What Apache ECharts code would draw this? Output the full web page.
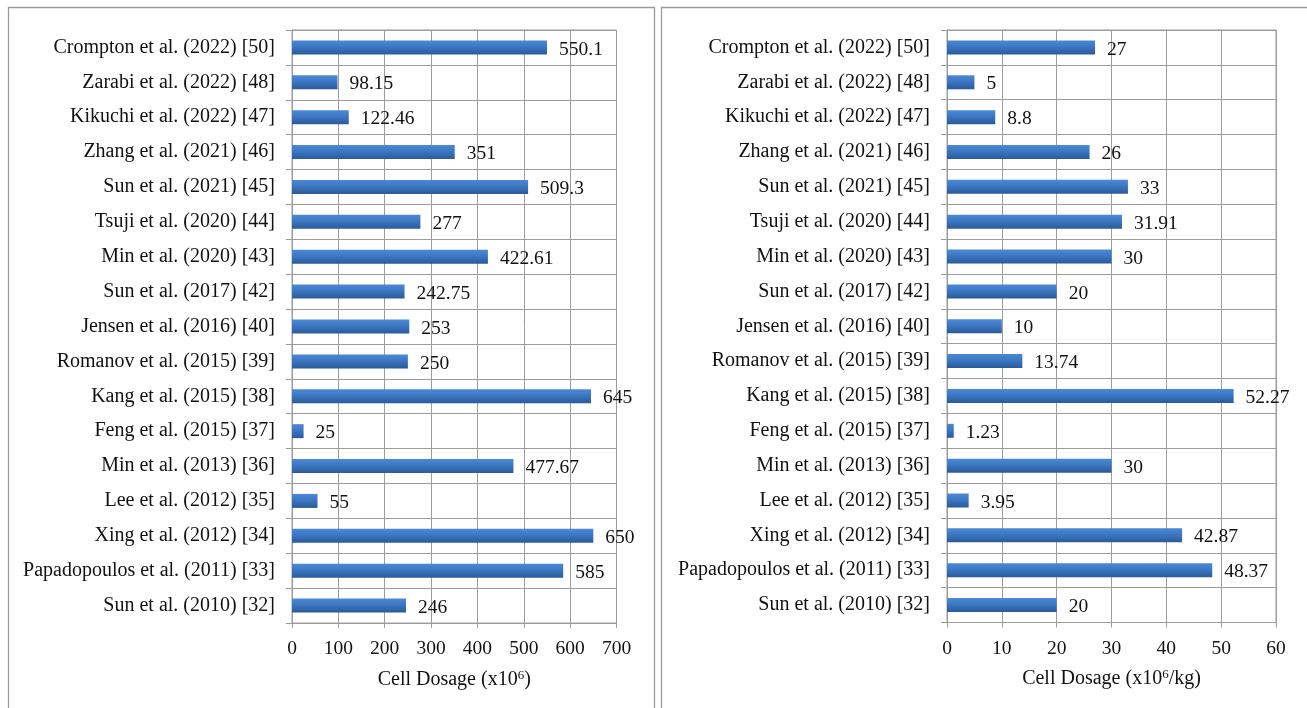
<!DOCTYPE html>
<html>
<head>
<meta charset="utf-8">
<script src="https://cdn.jsdelivr.net/npm/echarts@6/dist/echarts.min.js"></script>
<style>
  html, body { margin: 0; padding: 0; background: #fff; }
  #chart { width: 1307px; height: 708px; }
</style>
</head>
<body>
<div id="chart"></div>
<script>
// Studies, listed bottom to top as the category axis runs
const studies = [
  'Sun et al. (2010) [32]',
  'Papadopoulos et al. (2011) [33]',
  'Xing et al. (2012) [34]',
  'Lee et al. (2012) [35]',
  'Min et al. (2013) [36]',
  'Feng et al. (2015) [37]',
  'Kang et al. (2015) [38]',
  'Romanov et al. (2015) [39]',
  'Jensen et al. (2016) [40]',
  'Sun et al. (2017) [42]',
  'Min et al. (2020) [43]',
  'Tsuji et al. (2020) [44]',
  'Sun et al. (2021) [45]',
  'Zhang et al. (2021) [46]',
  'Kikuchi et al. (2022) [47]',
  'Zarabi et al. (2022) [48]',
  'Crompton et al. (2022) [50]'
];

// Total cell dose (x10^6)
const totalDose = [246, 585, 650, 55, 477.67, 25, 645, 250, 253, 242.75, 422.61, 277, 509.3, 351, 122.46, 98.15, 550.1];

// Cell dose per body weight (x10^6/kg)
const doseperKg = [20, 48.37, 42.87, 3.95, 30, 1.23, 52.27, 13.74, 10, 20, 30, 31.91, 33, 26, 8.8, 5, 27];

// Value axis ranges
const totalAxis = { min: 0, max: 700, interval: 100 };
const perKgAxis = { min: 0, max: 60, interval: 10 };

const FONT = 'Liberation Serif';
const GRID_COLOR = '#9c9c9c';
const TEXT_COLOR = '#111';

const barFill = new echarts.graphic.LinearGradient(0, 0, 0, 1, [
  { offset: 0, color: '#4b89d6' },
  { offset: 0.45, color: '#3c77c2' },
  { offset: 1, color: '#2a5a9a' }
]);

function axisName(prefix, suffix) {
  return {
    name: '{a|' + prefix + '}{s|6}{a|' + suffix + '}',
    nameLocation: 'middle',
    nameGap: 46,
    nameTextStyle: {
      rich: {
        a: { fontFamily: FONT, fontSize: 20, color: TEXT_COLOR },
        s: { fontFamily: FONT, fontSize: 13, color: TEXT_COLOR, padding: [0, 0, 8, 0] }
      }
    }
  };
}

function valueAxis(gridIndex, range, nameParts) {
  return Object.assign({
    type: 'value',
    gridIndex: gridIndex,
    min: range.min,
    max: range.max,
    interval: range.interval,
    axisLine: { show: true, lineStyle: { color: GRID_COLOR, width: 1 } },
    axisTick: { show: true, length: 5, lineStyle: { color: GRID_COLOR, width: 1 } },
    axisLabel: { margin: 16, fontFamily: FONT, fontSize: 19.5, color: TEXT_COLOR },
    splitLine: { show: true, lineStyle: { color: GRID_COLOR, width: 1 } }
  }, axisName(nameParts[0], nameParts[1]));
}

function categoryAxis(gridIndex) {
  return {
    type: 'category',
    gridIndex: gridIndex,
    data: studies,
    axisLine: { show: true, lineStyle: { color: GRID_COLOR, width: 1 } },
    axisTick: { show: true, length: 6, lineStyle: { color: GRID_COLOR, width: 1 } },
    axisLabel: { margin: 17, fontFamily: FONT, fontSize: 20, color: TEXT_COLOR },
    splitLine: { show: true, lineStyle: { color: GRID_COLOR, width: 1 } }
  };
}

function barSeries(axisIndex, values) {
  return {
    type: 'bar',
    xAxisIndex: axisIndex,
    yAxisIndex: axisIndex,
    data: values,
    barWidth: 14,
    itemStyle: { color: barFill },
    label: {
      show: true,
      position: 'right',
      distance: 12,
      offset: [0, 2],
      fontFamily: FONT,
      fontSize: 19.5,
      color: TEXT_COLOR
    },
    silent: true,
    animation: false
  };
}

const chart = echarts.init(document.getElementById('chart'), null, { renderer: 'canvas' });

chart.setOption({
  backgroundColor: '#fff',
  animation: false,
  grid: [
    { left: 292, top: 30, width: 324.5, height: 593, show: true, borderColor: GRID_COLOR, borderWidth: 1, containLabel: false },
    { left: 947, top: 30, width: 329, height: 592.5, show: true, borderColor: GRID_COLOR, borderWidth: 1, containLabel: false }
  ],
  xAxis: [
    valueAxis(0, totalAxis, ['Cell Dosage (x10', ')']),
    valueAxis(1, perKgAxis, ['Cell Dosage (x10', '/kg)'])
  ],
  yAxis: [categoryAxis(0), categoryAxis(1)],
  series: [barSeries(0, totalDose), barSeries(1, doseperKg)],
  graphic: [
    {
      type: 'rect', silent: true,
      shape: { x: 8.5, y: 7.5, width: 646, height: 720 },
      style: { fill: 'none', stroke: '#9a9a9a', lineWidth: 1.3 }
    },
    {
      type: 'rect', silent: true,
      shape: { x: 661.5, y: 7.5, width: 700, height: 720 },
      style: { fill: 'none', stroke: '#9a9a9a', lineWidth: 1.3 }
    }
  ]
});
</script>
</body>
</html>
